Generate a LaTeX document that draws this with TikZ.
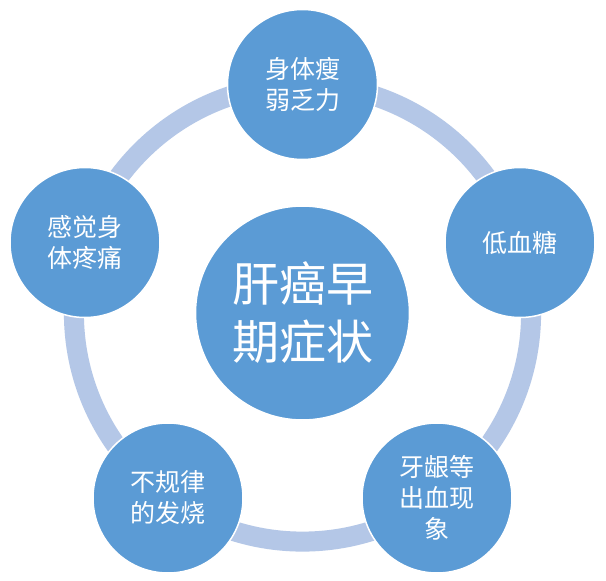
\documentclass[tikz,border=0pt]{standalone}
\usepackage{fontspec}
\newfontfamily\cjk{Noto Sans CJK SC}
\definecolor{circblue}{HTML}{5B9BD5}
\definecolor{ringblue}{HTML}{B4C7E7}
\tikzset{
  outer/.style={circle, fill=circblue, draw=white, line width=1.5pt, minimum size=150pt, inner sep=0pt, text=white, align=center, font=\cjk\fontsize{25}{31}\selectfont},
  center/.style={circle, fill=circblue, draw=white, line width=1.5pt, minimum size=214pt, inner sep=0pt, text=white, align=center, font=\cjk\fontsize{47}{58}\selectfont},
  ring/.style={draw=ringblue, line width=20pt}
}
\begin{document}
\begin{tikzpicture}[x=1pt,y=-1pt]
\useasboundingbox[fill=white] (0,0) rectangle (606,581);
\coordinate (c) at (302.5,313);
\draw[ring] (c) circle[radius=228.6];
\node[center] (main) at (c) {肝癌早\\期症状};
\node[outer] (top) at (302.5,84.5) {身体瘦\\弱乏力};
\node[outer] (right) at (520,242.5) {低血糖};
\node[outer] (br) at (437,498) {牙龈等\\出血现\\象};
\node[outer] (bl) at (168,498) {不规律\\的发烧};
\node[outer] (left) at (85,242.5) {感觉身\\体疼痛};
\end{tikzpicture}
\end{document}
